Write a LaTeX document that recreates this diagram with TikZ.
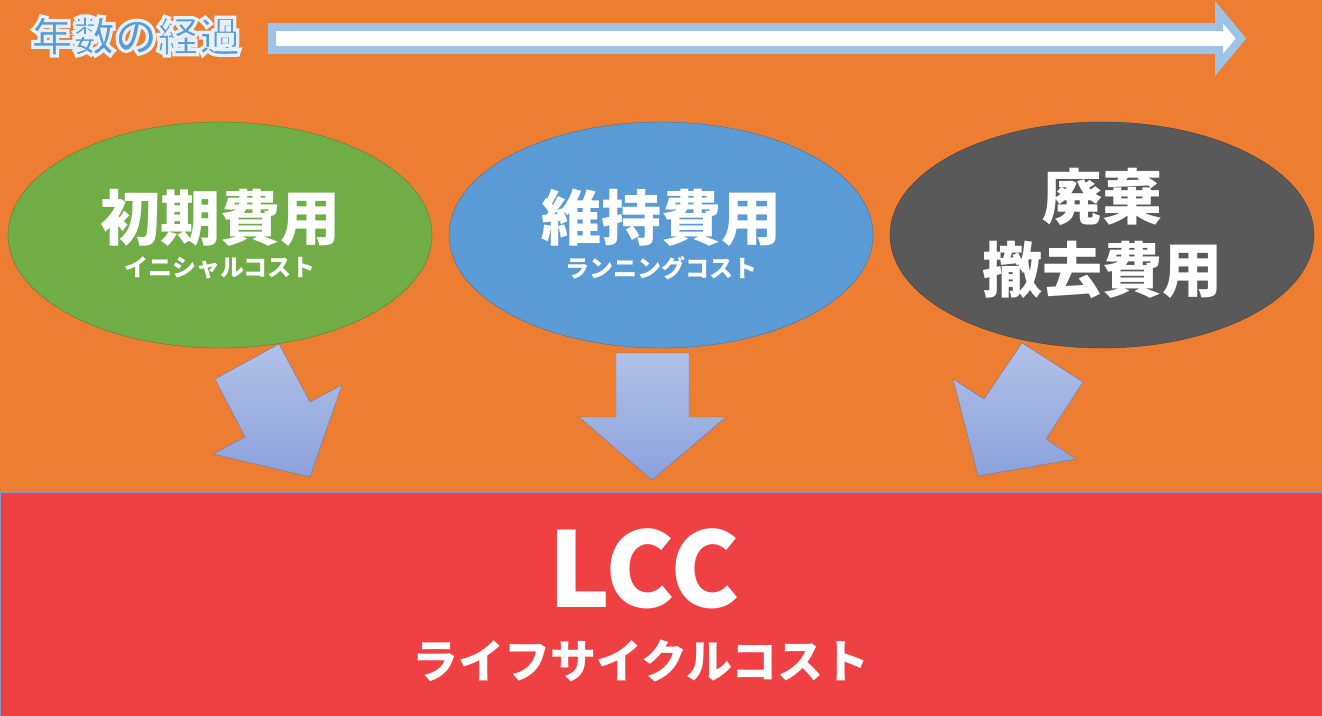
\documentclass[tikz,border=0pt]{standalone}
\usepackage{fontspec}
\newfontfamily\cjk{Noto Sans CJK JP}
\usepackage{tikz}
\usetikzlibrary{
    positioning,
    shapes.geometric
}
\definecolor{bgorange}{HTML}{ED7D31}
\definecolor{lccred}{HTML}{EF4044}
\definecolor{initgreen}{HTML}{70AD47}
\definecolor{runblue}{HTML}{5B9BD5}
\definecolor{endgray}{HTML}{595959}
\definecolor{timeline}{HTML}{9DC3E6}
\definecolor{arrowtop}{HTML}{B2C1E8}
\definecolor{arrowbottom}{HTML}{8BA1DB}
\definecolor{arrowline}{HTML}{6A7CB0}
% light outline round a text (fill + stroke)
\newcommand{\glowtext}[1]{%
    \special{pdf:literal direct 2 Tr 3.2 w 0.90 0.94 0.98 RG}#1\special{pdf:literal direct 0 Tr}}
\tikzset{
    % Cost ellipse:
    cost node/.style = {
        ellipse,
        minimum width = 424pt,
        minimum height = 226pt,
        inner sep = 0pt,
        draw = #1!75!black,
        fill = #1
    },
    % Big white title:
    title text/.style = {
        text = white,
        inner sep = 0pt,
        align = center,
        font = \cjk\bfseries\fontsize{60}{73}\selectfont
    },
    % Small white subtitle:
    sub text/.style = {
        title text,
        font = \cjk\bfseries\fontsize{24}{28}\selectfont
    },
    % Block arrow into the LCC bar:
    block arrow/.style = {
        draw = arrowline,
        top color = arrowtop,
        bottom color = arrowbottom,
        line join = miter
    }
}

\begin{document}
\begin{tikzpicture}[x=1pt, y=-1pt]
    \useasboundingbox (0, 0) rectangle (1322, 715);
    \fill [bgorange] (0, 0) rectangle (1322, 492);
    \path [draw=arrowline!80, fill=lccred] (0, 492) rectangle (1322, 716);

    % time line
    \node [text=runblue, inner sep=0pt, font=\cjk\bfseries\fontsize{42}{50}\selectfont] (years) at (136, 36) {\glowtext{年数の経過}};
    \path [draw=timeline, fill=white, line width=8pt, line join=miter]
        (272, 27) -- (1219, 27) -- (1219, 12) -- (1241, 38.5)
        -- (1219, 65) -- (1219, 50) -- (272, 50) -- cycle;

    % costs
    \node [cost node=initgreen] (initial) at (220, 235) {};
    \node [cost node=runblue] (running) at (661, 235) {};
    \node [cost node=endgray] (disposal) at (1102, 235) {};
    \node [title text, yshift=17pt] (initial title) at (initial) {初期費用};
    \node [sub text, yshift=-33pt] (initial sub) at (initial) {イニシャルコスト};
    \node [title text, yshift=17pt] (running title) at (running) {維持費用};
    \node [sub text, yshift=-33pt] (running sub) at (running) {ランニングコスト};
    \node [title text, yshift=1pt] (disposal title) at (disposal) {廃棄\\撤去費用};

    % arrows
    \path [block arrow]
        (279, 344) -- (310, 402) -- (342, 385) -- (310, 477)
        -- (213, 454) -- (245, 437) -- (215, 379) -- cycle;
    \path [block arrow]
        (616, 353) -- (689, 353) -- (689, 417) -- (726, 417)
        -- (652, 480) -- (579, 417) -- (616, 417) -- cycle;
    \path [block arrow]
        (1022, 343) -- (1083, 382) -- (1046, 439) -- (1076, 459)
        -- (978, 476) -- (953, 379) -- (984, 399) -- cycle;

    % life cycle cost
    \node [title text, font=\cjk\bfseries\fontsize{104}{110}\selectfont] (lcc) at (644, 569) {LCC};
    \node [sub text, font=\cjk\bfseries\fontsize{46}{52}\selectfont] (lcc sub) at (641, 661) {ライフサイクルコスト};
\end{tikzpicture}
\end{document}
